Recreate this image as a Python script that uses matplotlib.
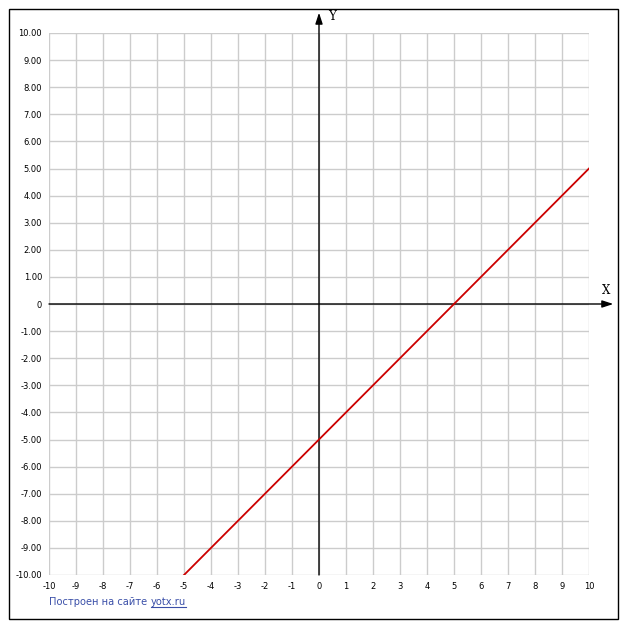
import matplotlib
matplotlib.use('Agg')
import numpy as np
from matplotlib import pyplot as plt
from matplotlib.lines import Line2D
from matplotlib.patches import Rectangle

# данные графика y = x - 5
x_line = [-5, 10]
y_line = [-10, 5]
x_ticks = list(range(-10, 11))
y_ticks = list(range(-10, 11))

W, H = 627, 630
fig = plt.figure(figsize=(W / 100, H / 100), dpi=100)
ax = fig.add_axes([49 / W, 1 - 575 / H, 540 / W, 542 / H])
ax.set_xlim(-10, 10)
ax.set_ylim(-10, 10)

# сетка
for v in x_ticks:
    ax.axvline(v, color='#cccccc', lw=1, zorder=0)
for v in y_ticks:
    ax.axhline(v, color='#cccccc', lw=1, zorder=0)
for s in ax.spines.values():
    s.set_visible(False)

ax.set_xticks(x_ticks)
ax.set_xticklabels([str(v) for v in x_ticks])
ax.set_yticks(y_ticks)
ax.set_yticklabels(['0' if v == 0 else f'{v:.2f}' for v in y_ticks])
ax.tick_params(length=0, labelsize=6, pad=5)

# оси со стрелками
arrow = dict(arrowstyle='-|>,head_length=0.55,head_width=0.18', color='black',
             lw=1.0, mutation_scale=12, shrinkA=0, shrinkB=0)
ax.annotate('', xy=(0, 10.75), xytext=(0, -10), arrowprops=arrow,
            annotation_clip=False)
ax.annotate('', xy=(10.9, 0), xytext=(-10, 0), arrowprops=arrow,
            annotation_clip=False)
ax.text(0.35, 10.6, 'Y', family='DejaVu Serif', fontsize=8.5, ha='left',
        va='center', clip_on=False)
ax.text(10.65, 0.5, 'X', family='DejaVu Serif', fontsize=8.5, ha='center',
        va='center', clip_on=False)

ax.plot(x_line, y_line, color='#cc0000', lw=1.3, zorder=3)

# рамка
fig.patches.append(Rectangle((9 / W, 1 - 619 / H), 609 / W, 610 / H,
                             transform=fig.transFigure, fill=False,
                             edgecolor='black', lw=1))

t1 = fig.text(49 / W, 1 - 602 / H, 'Построен на сайте', fontsize=7.1,
              color='#3a4fa8', va='center', ha='left')
fig.canvas.draw()
bb = t1.get_window_extent()
t2 = fig.text((bb.x1 + 4) / W, 1 - 602 / H, 'yotx.ru', fontsize=7.1,
              color='#3a4fa8', va='center', ha='left')
fig.canvas.draw()
bb2 = t2.get_window_extent()
fig.add_artist(Line2D([bb2.x0 / W, bb2.x1 / W],
                      [(bb2.y0 + 0.5) / H, (bb2.y0 + 0.5) / H],
                      color='#3a4fa8', lw=0.8))

fig.savefig('out.png', dpi=100)
